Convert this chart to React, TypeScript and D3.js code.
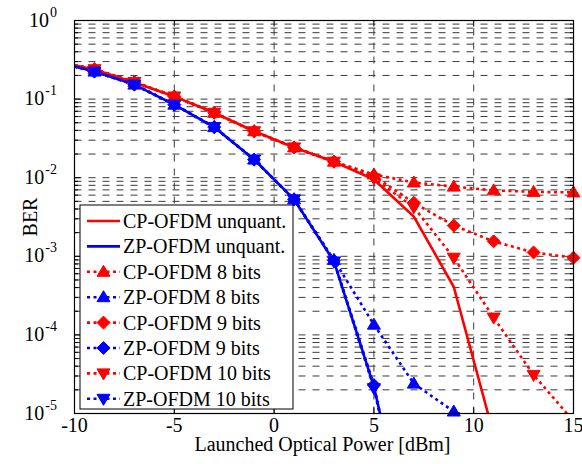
import React from "react";
import * as d3 from "d3";

const xs = [-10, -9, -7, -5, -3, -1, 1, 3, 5, 7, 9, 11, 13, 15];
const cpUnq = [0.27, 0.238, 0.163, 0.108, 0.067, 0.039, 0.0242, 0.016, 0.0095, 0.0032, 4.1e-4, 5.4e-6];
const zpUnq = [0.26, 0.224, 0.153, 0.085, 0.044, 0.017, 0.0053, 8.6e-4, 2.2e-5, 1.3e-7];
const cp8 = [0.27, 0.24, 0.165, 0.108, 0.067, 0.039, 0.0243, 0.016, 0.011, 0.0087, 0.0077, 0.0069, 0.0066, 0.0065];
const zp8 = [0.26, 0.224, 0.153, 0.085, 0.044, 0.017, 0.0053, 9.0e-4, 1.35e-4, 2.4e-5, 1.06e-5, 6.8e-6];
const cp9 = [0.27, 0.24, 0.165, 0.108, 0.067, 0.039, 0.0243, 0.016, 0.0105, 0.0048, 0.00246, 0.00155, 0.00112, 0.00096];
const zp9 = [0.26, 0.224, 0.153, 0.085, 0.044, 0.017, 0.0053, 8.8e-4, 2.3e-5, 1.0e-7];
const cp10 = [0.27, 0.24, 0.165, 0.108, 0.067, 0.039, 0.0243, 0.016, 0.0098, 0.0042, 9.6e-4, 1.66e-4, 3.1e-5, 8.0e-6];
const zp10 = [0.26, 0.224, 0.153, 0.085, 0.044, 0.017, 0.0053, 8.6e-4, 2.1e-5, 1.0e-7];

const seriesNames = [
  "CP-OFDM unquant.",
  "ZP-OFDM unquant.",
  "CP-OFDM 8 bits",
  "ZP-OFDM 8 bits",
  "CP-OFDM 9 bits",
  "ZP-OFDM 9 bits",
  "CP-OFDM 10 bits",
  "ZP-OFDM 10 bits",
];
const seriesValues = [cpUnq, zpUnq, cp8, zp8, cp9, zp9, cp10, zp10];
const seriesColors = ["#ff0000", "#0000ff", "#ff0000", "#0000ff", "#ff0000", "#0000ff", "#ff0000", "#0000ff"];
const seriesMarkers = ["none", "none", "up", "up", "diamond", "diamond", "down", "down"];
const seriesDotted = [false, false, true, true, true, true, true, true];

const xTicks = [-10, -5, 0, 5, 10, 15];
const xGrid = [-5, 0, 5, 10];
const yExps = [0, -1, -2, -3, -4, -5];

const L = 74.5, R = 573.5, T = 20.5, B = 413.5;

function markerPath(kind: string): string {
  if (kind === "up") return "M0,-6.5L6.5,4.5L-6.5,4.5Z";
  if (kind === "down") return "M0,6.5L6.5,-4.5L-6.5,-4.5Z";
  if (kind === "diamond") return "M0,-6.5L6.5,0L0,6.5L-6.5,0Z";
  return "";
}

export default function App() {
  const x = d3.scaleLinear().domain([-10, 15]).range([L, R]);
  const y = d3.scaleLog().domain([1e-5, 1]).range([B, T]);

  const minorY: number[] = [];
  for (let e = -5; e < 0; e++) {
    for (let m = 1; m <= 9; m++) minorY.push(m * Math.pow(10, e));
  }
  minorY.push(1);

  const line = d3
    .line<[number, number]>()
    .x((d) => x(d[0]))
    .y((d) => y(d[1]));

  const font = "'Liberation Serif', 'Times New Roman', serif";

  const legendX = 80, legendY = 205, legendW = 213, legendH = 204;
  const rowY0 = 221, rowStep = 25.4;

  return (
    <svg
      width={582}
      height={464}
      style={{ position: "absolute", left: 0, top: 0, background: "#fff" }}
      fontFamily={font}
    >
      <defs>
        <clipPath id="plotClip">
          <rect x={L} y={T} width={R - L} height={B - T} />
        </clipPath>
      </defs>
      <rect x={0} y={0} width={582} height={464} fill="#fff" />
      {/* grid */}
      <g stroke="#3a3a3a" strokeWidth={1} strokeDasharray="7,7" fill="none">
        {minorY.map((v, i) => (
          <line key={"gy" + i} x1={L} x2={R} y1={y(v)} y2={y(v)} />
        ))}
        {xGrid.map((v) => (
          <line key={"gx" + v} x1={x(v)} x2={x(v)} y1={B} y2={T} />
        ))}
      </g>
      {/* ticks */}
      <g stroke="#000" strokeWidth={1}>
        {minorY.map((v, i) => {
          const major = Math.abs(Math.log10(v) - Math.round(Math.log10(v))) < 1e-9;
          const len = major ? 6 : 3.5;
          return (
            <g key={"ty" + i}>
              <line x1={L} x2={L + len} y1={y(v)} y2={y(v)} />
              <line x1={R} x2={R - len} y1={y(v)} y2={y(v)} />
            </g>
          );
        })}
        {xTicks.map((v) => (
          <g key={"tx" + v}>
            <line x1={x(v)} x2={x(v)} y1={B} y2={B - 6} />
            <line x1={x(v)} x2={x(v)} y1={T} y2={T + 6} />
          </g>
        ))}
      </g>
      {/* series lines */}
      <g clipPath="url(#plotClip)" fill="none">
        {seriesValues.map((vals, si) => {
          const pts: [number, number][] = vals.map((v, i) => [xs[i], v]);
          return (
            <path
              key={"s" + si}
              d={line(pts) || ""}
              stroke={seriesColors[si]}
              strokeWidth={2.6}
              strokeDasharray={seriesDotted[si] ? "3,3.5" : undefined}
            />
          );
        })}
      </g>
      {/* markers */}
      <g>
        {seriesValues.map((vals, si) =>
          seriesMarkers[si] === "none"
            ? null
            : vals.map((v, i) =>
                i === 0 || v < 1e-5 ? null : (
                  <path
                    key={"m" + si + "-" + i}
                    d={markerPath(seriesMarkers[si])}
                    transform={`translate(${x(xs[i])},${y(v)})`}
                    fill={seriesColors[si]}
                    stroke={seriesColors[si]}
                    strokeWidth={1}
                  />
                )
              )
        )}
      </g>
      {/* frame */}
      <rect x={L} y={T} width={R - L} height={B - T} fill="none" stroke="#000" strokeWidth={1.2} />
      {/* x tick labels */}
      <g fontSize={20} textAnchor="middle" fill="#000">
        {xTicks.map((v) => (
          <text key={"xl" + v} x={x(v)} y={432}>
            {v}
          </text>
        ))}
      </g>
      {/* y tick labels */}
      <g fill="#000">
        {yExps.map((e) => {
          const yy = y(Math.pow(10, e));
          return (
            <text key={"yl" + e} x={57} y={yy + 6} fontSize={20} textAnchor="end">
              10
              <tspan fontSize={14} dy={-10} dx={1} textAnchor="start">
                {e}
              </tspan>
            </text>
          );
        })}
      </g>
      {/* axis labels */}
      <text x={322.5} y={451} fontSize={20} textAnchor="middle" fill="#000">
        Launched Optical Power [dBm]
      </text>
      <text
        transform="translate(37,217) rotate(-90)"
        fontSize={20}
        textAnchor="middle"
        fill="#000"
      >
        BER
      </text>
      {/* legend */}
      <g>
        <rect x={legendX} y={legendY} width={legendW} height={legendH} fill="#fff" stroke="#000" strokeWidth={1} />
        {seriesNames.map((name, si) => {
          const ry = rowY0 + si * rowStep;
          return (
            <g key={"lg" + si}>
              <line
                x1={87}
                x2={120}
                y1={ry}
                y2={ry}
                stroke={seriesColors[si]}
                strokeWidth={2.6}
                strokeDasharray={seriesDotted[si] ? "3,3.5" : undefined}
              />
              {seriesMarkers[si] !== "none" && (
                <path
                  d={markerPath(seriesMarkers[si])}
                  transform={`translate(103.5,${ry})`}
                  fill={seriesColors[si]}
                  stroke={seriesColors[si]}
                  strokeWidth={1}
                />
              )}
              <text x={123} y={ry + 7} fontSize={20} fill="#000">
                {name}
              </text>
            </g>
          );
        })}
      </g>
    </svg>
  );
}
